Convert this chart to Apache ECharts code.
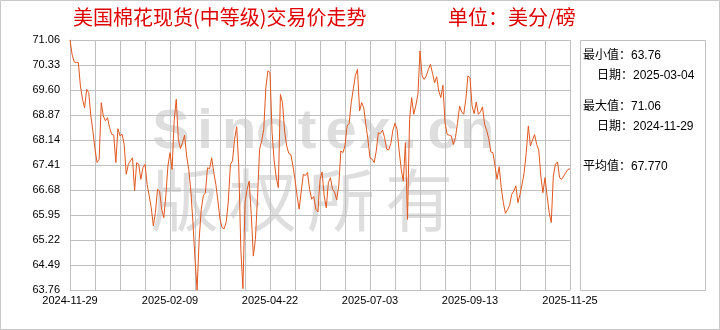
<!DOCTYPE html>
<html><head><meta charset="utf-8">
<script src="https://cdn.jsdelivr.net/npm/echarts@6/dist/echarts.min.js"></script>
<style>html,body{margin:0;padding:0;background:#fff}#c{width:720px;height:330px}</style>
</head><body><div id="c"></div>
<script>
// Daily spot price, US cents/lb, 2024-11-29 .. 2025-11-25
const prices = [
  71.06,70.64,70.42,70.40,70.40,69.72,69.33,69.08,69.62,69.52,68.84,68.40,67.87,67.48,67.58,69.23,
  68.84,68.70,68.79,68.50,68.31,68.28,67.48,68.47,68.26,68.31,68.01,67.14,67.43,67.53,67.62,66.65,
  67.48,67.43,66.99,67.33,67.43,66.85,66.52,66.16,65.63,66.02,66.70,66.65,66.12,65.87,66.51,67.38,
  67.77,67.28,68.70,69.33,68.16,67.89,68.06,68.28,67.67,67.28,66.65,65.75,64.66,63.76,65.24,66.12,
  66.51,66.60,67.33,67.30,67.62,67.19,66.85,66.36,65.82,65.58,65.55,65.75,66.36,67.43,67.53,68.16,
  68.53,67.38,64.95,63.80,66.31,66.70,66.94,65.97,64.75,65.24,66.46,67.87,68.11,68.45,69.67,70.16,
  70.11,68.35,67.53,67.04,66.75,69.47,69.23,68.40,67.97,67.75,67.72,67.38,66.99,66.51,66.12,66.65,
  67.14,67.10,67.19,66.70,66.41,66.49,66.12,66.04,66.99,67.21,66.51,66.16,66.89,67.04,66.70,66.62,
  66.39,66.80,67.82,67.77,67.97,68.55,68.63,69.23,69.64,70.03,70.20,68.99,69.23,69.08,68.60,68.16,
  67.62,67.58,67.48,67.82,68.35,68.33,68.43,68.21,67.87,67.85,68.04,68.43,68.63,68.45,67.82,67.28,
  66.94,68.06,65.82,68.74,69.38,68.89,69.15,69.47,70.74,70.01,69.91,70.01,70.20,70.35,70.09,69.81,
  69.99,69.57,69.38,69.74,68.65,68.31,68.28,68.26,68.01,68.21,68.63,69.13,68.96,68.89,69.33,70.01,
  69.96,69.13,68.91,69.25,68.89,68.96,69.11,68.60,68.42,68.18,67.79,67.77,67.38,66.99,67.36,66.75,
  66.31,66.00,66.10,66.23,66.55,66.65,66.80,66.31,66.55,66.85,67.19,67.77,68.55,67.97,68.14,68.30,
  68.01,67.85,67.09,66.60,67.04,66.51,66.02,65.73,67.09,67.43,67.50,67.04,66.99,67.09,67.19,67.28,
  67.30
];
const xTickLabels = ['2024-11-29','2025-02-09','2025-04-22','2025-07-03','2025-09-13','2025-11-25'];
const yMin = 63.76, yMax = 71.06, yStep = 0.73;
const titleText = '美国棉花现货(中等级)交易价走势';
const unitText = '单位：美分/磅';
const statLines = ['最小值：63.76', '日期：2025-03-04', '最大值：71.06', '日期：2024-11-29', '平均值：67.770'];
const watermarkLatin = 'Sinotex.cn';
const watermarkCJK = '版权所有';

const categories = prices.map((_, i) => i);
const labelStep = (categories.length - 1) / (xTickLabels.length - 1);
const colStep = (categories.length - 1) / 20;

const FONT = '"Liberation Sans","Noto Sans CJK SC",sans-serif';
const CJK = '"Noto Sans CJK SC",sans-serif';
const wm = '#dedede';

const graphics = [
  {type:'rect', z:-5, shape:{x:0.5,y:0.5,width:719,height:329}, style:{fill:'#fff', stroke:'#c8c8c8', lineWidth:1}},
  {type:'text', left:73, top:7, style:{text:titleText, font:'20px '+CJK, fill:'#e00000'}},
  {type:'text', left:448, top:7, style:{text:unitText, font:'20px '+CJK, fill:'#e00000'}},
  {type:'rect', shape:{x:580.5,y:40.5,width:125,height:250}, style:{fill:'none', stroke:'#c0c0c0', lineWidth:1}}
];
const statPos = [[583,56],[597,76],[583,107],[597,127],[583,167]];
statLines.forEach((t, k) => graphics.push({type:'text', x:statPos[k][0], y:statPos[k][1],
  style:{text:t, font:'12px '+FONT, fill:'#000', verticalAlign:'middle'}}));
watermarkLatin.split('').forEach((ch, k) => graphics.push({type:'text', z:-1, x:171 + k*34, y:133,
  style:{text:ch, font:'bold 56px "Liberation Sans",sans-serif', fill:wm, align:'center', verticalAlign:'middle'}}));
watermarkCJK.split('').forEach((ch, k) => graphics.push({type:'text', z:-1, x:185 + k*78, y:200,
  style:{text:ch, font:'68px '+CJK, fill:wm, align:'center', verticalAlign:'middle'}}));

const chart = echarts.init(document.getElementById('c'), null, {renderer:'canvas'});
chart.setOption({
  animation:false,
  backgroundColor:'transparent',
  graphic: graphics,
  grid:{left:70, top:40, width:500, height:250, containLabel:false},
  xAxis:{
    type:'category', data:categories, boundaryGap:false,
    axisLine:{show:true, lineStyle:{color:'#c0c0c0'}},
    axisTick:{show:false},
    axisLabel:{interval:labelStep-1, margin:5, fontSize:11, fontFamily:FONT, color:'#000',
      formatter:(v, idx) => xTickLabels[Math.round(idx/labelStep)]},
    splitLine:{show:true, interval:colStep-1, lineStyle:{color:'#c0c0c0', width:1}}
  },
  yAxis:{
    type:'value', min:yMin, max:yMax, interval:yStep,
    axisLine:{show:true, lineStyle:{color:'#c0c0c0'}},
    axisTick:{show:false},
    axisLabel:{margin:10, fontSize:11, fontFamily:FONT, color:'#000', formatter:v => v.toFixed(2)},
    splitLine:{show:true, lineStyle:{color:'#c0c0c0', width:1}}
  },
  series:[{type:'line', data:prices, symbol:'none', z:5,
    lineStyle:{color:'#e2571e', width:1}}]
});
</script></body></html>
